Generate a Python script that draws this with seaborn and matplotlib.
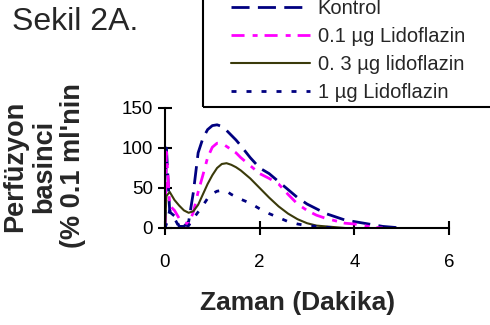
import numpy as np
import pandas as pd
import matplotlib
matplotlib.use("Agg")
import matplotlib.pyplot as plt
import seaborn as sns
from matplotlib.patches import Rectangle

# Data (perfusion pressure vs time)
t = [0, 0.03, 0.1, 0.2, 0.3, 0.4, 0.5, 0.6, 0.7, 0.8, 0.9, 1.0, 1.1, 1.2, 1.3,
     1.4, 1.5, 1.6, 1.8, 2.0, 2.2, 2.4, 2.6, 2.8, 3.0, 3.2, 3.4, 3.6, 3.8, 4.0,
     4.2, 4.4, 4.6, 4.8, 5.0]
kontrol = [0, 100, 20, 15, 2, 2, 8, 45, 94, 112, 123, 128, 129, 127, 122,
           116, 110, 103, 88, 75, 68, 58, 48, 38, 30, 24, 18, 14, 10, 8,
           6, 4, 2, 1, 0]
lido_01 = [0, 95, 28, 22, 12, 7, 5, 20, 45, 66, 88, 101, 106, 106, 102,
           98, 94, 88, 78, 68, 62, 55, 42, 30, 22, 16, 12, 9, 6, 5,
           3, 1, 0, np.nan, np.nan]
lido_03 = [0, 40, 45, 35, 28, 22, 19, 21, 29, 42, 55, 66, 75, 80, 81,
           79, 76, 72, 62, 50, 38, 27, 18, 11, 6, 3, 2, 1, 0, np.nan,
           np.nan, np.nan, np.nan, np.nan, np.nan]
lido_1 = [0, 5, 22, 12, 1, 0, 3, 12, 20, 28, 37, 43, 46, 47, 46,
          42, 39, 36, 31, 24, 18, 13, 8, 5, 3, 2, 1, 0, np.nan, np.nan,
          np.nan, np.nan, np.nan, np.nan, np.nan]
labels = ["Kontrol", "0.1 µg Lidoflazin", "0. 3 µg lidoflazin", "1 µg Lidoflazin"]

sns.set_style("ticks")
plt.rcParams["font.family"] = ["Liberation Sans", "DejaVu Sans"]

fig = plt.figure(figsize=(4.9, 3.25), dpi=100)
ax = fig.add_axes([165/490, 1 - 228/325, (449 - 165)/490, (228 - 108)/325])

styles = [
    dict(color="#000080", lw=2.0, dashes=(6.5, 3)),
    dict(color="#ff00ff", lw=2.0, dashes=(4.7, 2.9, 1.8, 2.5)),
    dict(color="#3a3a0a", lw=1.5, dashes=None),
    dict(color="#000080", lw=2.0, dashes=(1.8, 3.6)),
]
for y, lab, st in zip([kontrol, lido_01, lido_03, lido_1], labels, styles):
    df = pd.DataFrame({"t": t, "p": y}).dropna()
    line_kw = {} if st["dashes"] is None else {"dashes": st["dashes"]}
    sns.lineplot(data=df, x="t", y="p", ax=ax, color=st["color"],
                 linewidth=st["lw"], label=lab, sort=False, **line_kw)

ax.set_xlim(0, 6)
ax.set_ylim(0, 150)
ax.set_xticks([0, 2, 4, 6])
ax.set_yticks([0, 50, 100, 150])
ax.set_xlabel("")
ax.set_ylabel("")
sns.despine(ax=ax)
for s in ["left", "bottom"]:
    ax.spines[s].set_color("black")
    ax.spines[s].set_linewidth(1.5)
ax.tick_params(axis="both", direction="inout", length=9.5, width=1.5,
               labelsize=13.5, colors="black")
ax.tick_params(axis="x", pad=14)
ax.tick_params(axis="y", pad=4)

# legend, frame drawn separately so it runs off the top/right edge
leg = ax.legend(loc="lower left", bbox_to_anchor=(231/490, 1 - 102/325),
                bbox_transform=fig.transFigure, frameon=False, fontsize=14.5,
                handlelength=3.9, handletextpad=0.4, labelspacing=0.45,
                borderaxespad=0, borderpad=0)
fig.patches.append(Rectangle((203/490, 1 - 107/325), 0.7, 0.7,
                             transform=fig.transFigure, fill=False,
                             edgecolor="black", linewidth=1.5))

fig.text(12/490, 1 - 30/325, "Sekil 2A.", fontsize=23, ha="left", va="baseline")
fig.text(298/490, 1 - 303/325, "Zaman (Dakika)", fontsize=19, fontweight="bold",
         ha="center", va="center")
fig.text(44/490, 1 - 166/325, "Perfüzyon\nbasinci\n(% 0.1 ml'nin", fontsize=19.5,
         fontweight="bold", rotation=90, ha="center", va="center",
         multialignment="center", linespacing=1.15)

fig.savefig("out.png", dpi=100)
